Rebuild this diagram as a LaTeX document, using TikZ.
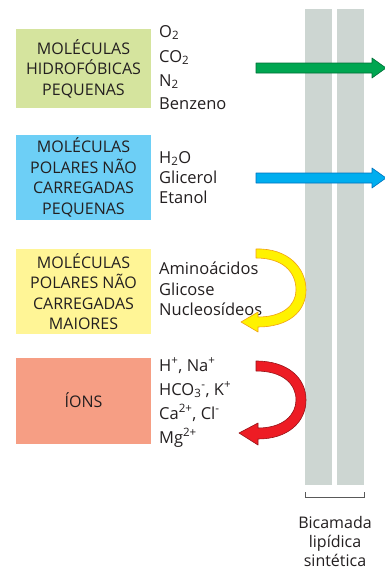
\documentclass[tikz,border=0pt]{standalone}
\usepackage{fontspec}
\setmainfont{Open Sans}
\definecolor{txt}{RGB}{35,31,32}
\definecolor{barc}{RGB}{205,214,210}
\definecolor{bgreen}{RGB}{213,228,158}
\definecolor{bblue}{RGB}{109,207,246}
\definecolor{byellow}{RGB}{255,245,150}
\definecolor{bsalmon}{RGB}{246,158,132}
\definecolor{agreen}{RGB}{0,166,81}
\definecolor{agreenD}{RGB}{0,110,55}
\definecolor{ablue}{RGB}{0,174,239}
\definecolor{ablueD}{RGB}{0,114,188}
\definecolor{ayellow}{RGB}{255,242,0}
\definecolor{ayellowD}{RGB}{240,160,20}
\definecolor{ared}{RGB}{237,28,36}
\definecolor{aredD}{RGB}{150,20,25}
\begin{document}
\begin{tikzpicture}[x=1pt,y=-1pt,
  catbox/.style={inner sep=0pt, minimum width=135pt, align=center, text=txt,
    font=\fontsize{16}{20.5}\selectfont},
  item/.style={anchor=base west, inner sep=0pt, text=txt, font=\fontsize{16.5}{18}\selectfont},
  bar/.style={fill=barc},
  flat/.style={line width=0.6pt, line join=round}]
\useasboundingbox (0,0) rectangle (384,570);
% bilayer
\fill[bar] (305,9) rectangle (332,485);
\fill[bar] (337,9) rectangle (364,485);
\draw[gray!70!black, line width=0.5pt] (305,492) -- (305,497) -- (364,497) -- (364,492);
\node[align=center, text=txt, font=\fontsize{16}{19}\selectfont, anchor=base, inner sep=0pt] (lab) at (335,566) {Bicamada\\lipídica\\sintética};
% boxes
\node[catbox, fill=bgreen, minimum height=79pt] (b1) at (83.5,68.5) {MOLÉCULAS\\HIDROFÓBICAS\\PEQUENAS};
\node[catbox, fill=bblue, minimum height=85pt] (b2) at (83.5,177.5) {MOLÉCULAS\\POLARES NÃO\\CARREGADAS\\PEQUENAS};
\node[catbox, fill=byellow, minimum height=85pt] (b3) at (83.5,291.5) {MOLÉCULAS\\POLARES NÃO\\CARREGADAS\\MAIORES};
\node[catbox, fill=bsalmon, minimum height=86pt] (b4) at (83.5,400.5) {ÍONS};
% lists
\node[item] (l11) at (159,37) {O\textsubscript{2}};
\node[item] (l12) at (159,62) {CO\textsubscript{2}};
\node[item] (l13) at (159,86) {N\textsubscript{2}};
\node[item] (l14) at (159,109) {Benzeno};
\node[item] (l21) at (159,163) {H\textsubscript{2}O};
\node[item] (l22) at (159,183) {Glicerol};
\node[item] (l23) at (159,203) {Etanol};
\node[item] (l31) at (159,274) {Aminoácidos};
\node[item] (l32) at (159,295) {Glicose};
\node[item] (l33) at (159,315) {Nucleosídeos};
\node[item] (l41) at (159,371) {H\textsuperscript{+}, Na\textsuperscript{+}};
\node[item] (l42) at (159,395) {HCO\textsubscript{3}\textsuperscript{-}, K\textsuperscript{+}};
\node[item] (l43) at (159,419) {Ca\textsuperscript{2+}, Cl\textsuperscript{-}};
\node[item] (l44) at (159,443) {Mg\textsuperscript{2+}};
% straight arrows
\filldraw[flat, fill=agreen, draw=agreenD] (256,63) -- (372,63) -- (372,58) -- (386,68) -- (372,78) -- (372,73) -- (256,73) -- cycle;
\filldraw[flat, fill=ablue, draw=ablueD] (256,173) -- (372,173) -- (372,168) -- (386,178) -- (372,188) -- (372,183) -- (256,183) -- cycle;
% curved arrows
\filldraw[flat, fill=ayellow, draw=ayellowD] (256,249) .. controls (288,248) and (306,268) .. (306,290)
  .. controls (306,312) and (288,327) .. (258,327) -- (258,332) -- (241,322) -- (258,312) -- (258,317)
  .. controls (283,317) and (296,305) .. (296,290) .. controls (296,272) and (283,258) .. (256,258) -- cycle;
\filldraw[flat, fill=ared, draw=aredD] (256,361) .. controls (288,361) and (306,378) .. (306,400)
  .. controls (306,422) and (288,439) .. (258,439) -- (258,445) -- (239,433) -- (258,423) -- (258,428)
  .. controls (283,428) and (296,415) .. (296,400) .. controls (296,384) and (283,371) .. (256,371) -- cycle;
\end{tikzpicture}
\end{document}
